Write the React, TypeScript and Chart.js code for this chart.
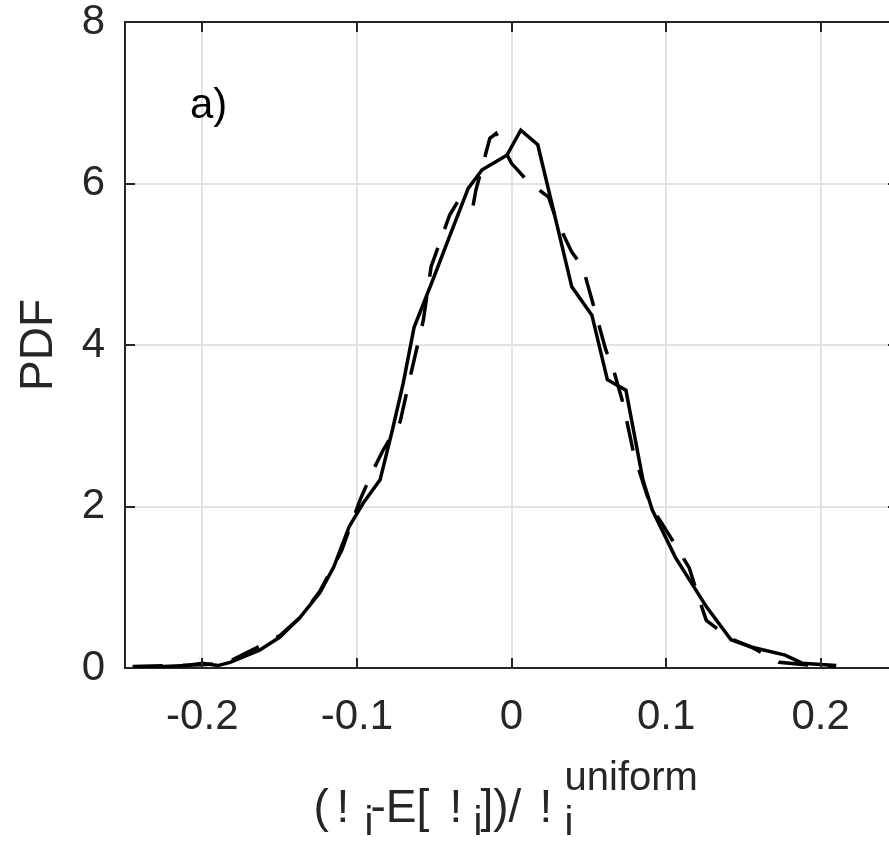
import React, { useEffect, useRef } from 'react';
import { Chart, registerables } from 'chart.js';

Chart.register(...registerables);

// ---- data ----
const solidX = [-0.245, -0.225, -0.21, -0.2, -0.19, -0.182, -0.163, -0.15, -0.137, -0.124, -0.115, -0.105, -0.096, -0.085, -0.077, -0.07, -0.063, -0.051, -0.041, -0.028, -0.019, -0.003, 0.006, 0.017, 0.039, 0.052, 0.062, 0.074, 0.085, 0.091, 0.106, 0.126, 0.142, 0.155, 0.177, 0.188, 0.21];
const solidPdf = [0.01, 0.02, 0.03, 0.06, 0.03, 0.07, 0.22, 0.38, 0.62, 0.93, 1.25, 1.75, 2.04, 2.33, 2.95, 3.53, 4.22, 4.8, 5.3, 5.94, 6.17, 6.35, 6.66, 6.48, 4.72, 4.37, 3.57, 3.44, 2.33, 1.96, 1.37, 0.76, 0.35, 0.26, 0.16, 0.06, 0.03];

const dashedX = [-0.245, -0.22, -0.2, -0.185, -0.165, -0.15, -0.137, -0.124, -0.11, -0.098, -0.09, -0.083, -0.072, -0.065, -0.057, -0.052, -0.04, -0.034, -0.025, -0.023, -0.014, -0.01, 0.0, 0.01, 0.024, 0.029, 0.039, 0.046, 0.052, 0.061, 0.066, 0.072, 0.079, 0.09, 0.097, 0.108, 0.115, 0.12, 0.126, 0.141, 0.155, 0.173, 0.19, 0.21];
const dashedPdf = [0.02, 0.03, 0.04, 0.06, 0.25, 0.4, 0.62, 0.95, 1.45, 2.08, 2.43, 2.7, 3.05, 3.65, 4.31, 4.97, 5.61, 5.8, 5.71, 5.92, 6.56, 6.62, 6.25, 6.04, 5.83, 5.55, 5.15, 4.97, 4.56, 3.94, 3.69, 3.29, 2.66, 2.0, 1.8, 1.46, 1.24, 0.93, 0.59, 0.37, 0.26, 0.07, 0.04, 0.02];

const xTickValues = [-0.2, -0.1, 0, 0.1, 0.2];
const yTickValues = [0, 2, 4, 6, 8];
const xRange = [-0.25, 0.25];
const yRange = [0, 8];
const yTitle = 'PDF';
const panelLabel = 'a)';
const panelLabelAt = [-0.208, 6.81];

// x-axis title pieces: [text, kind, offset from x=0 pixel] kind: m=main, sub, sup
const xTitlePieces: [string, string, number][] = [
  ['(', 'm', -198],
  ['!', 'm', -175],
  ['i', 'sub', -147],
  ['-E[', 'm', -141],
  ['!', 'm', -62],
  ['i', 'sub', -38],
  ['])/', 'm', -31],
  ['!', 'm', 28],
  ['i', 'sub', 53],
  ['uniform', 'sup', 53],
];

const AXIS = '#262626';
const FONT = "'Liberation Sans', Arial, Helvetica, sans-serif";

const framePlugin = {
  id: 'frame',
  afterDraw(chart: any) {
    const { ctx, chartArea, scales } = chart;
    const { left, right, top, bottom } = chartArea;
    ctx.save();
    ctx.strokeStyle = AXIS;
    ctx.lineWidth = 2;
    ctx.beginPath();
    ctx.moveTo(left, top);
    ctx.lineTo(right, top);
    ctx.lineTo(right, bottom);
    ctx.stroke();
    const tl = 10;
    ctx.beginPath();
    for (const v of xTickValues) {
      const px = Math.round(scales.x.getPixelForValue(v));
      ctx.moveTo(px, bottom);
      ctx.lineTo(px, bottom - tl);
      ctx.moveTo(px, top);
      ctx.lineTo(px, top + tl);
    }
    for (const v of yTickValues) {
      const py = Math.round(scales.y.getPixelForValue(v));
      ctx.moveTo(left, py);
      ctx.lineTo(left + tl, py);
      ctx.moveTo(right, py);
      ctx.lineTo(right - tl, py);
    }
    ctx.stroke();

    // panel label
    ctx.fillStyle = '#000';
    ctx.font = `42px ${FONT}`;
    ctx.textAlign = 'left';
    ctx.textBaseline = 'alphabetic';
    ctx.fillText(panelLabel, scales.x.getPixelForValue(panelLabelAt[0]), scales.y.getPixelForValue(panelLabelAt[1]));

    // x title with sub/superscripts
    const zero = scales.x.getPixelForValue(0);
    ctx.fillStyle = AXIS;
    for (const [t, kind, off] of xTitlePieces) {
      if (kind === 'm') {
        ctx.font = `46px ${FONT}`;
        ctx.fillText(t, zero + off, 822);
      } else if (kind === 'sub') {
        ctx.font = `40px ${FONT}`;
        ctx.fillText(t, zero + off, 835);
      } else {
        ctx.font = `40px ${FONT}`;
        ctx.fillText(t, zero + off, 790);
      }
    }
    ctx.restore();
  },
};

export default function App() {
  const ref = useRef<HTMLCanvasElement | null>(null);
  useEffect(() => {
    if (!ref.current) return;
    const chart = new Chart(ref.current, {
      type: 'scatter',
      data: {
        datasets: [
          {
            label: 'solid',
            data: solidX.map((x, i) => ({ x, y: solidPdf[i] })),
            showLine: true,
            borderColor: '#000',
            borderWidth: 3.5,
            pointRadius: 0,
            fill: false,
            tension: 0,
          },
          {
            label: 'dashed',
            data: dashedX.map((x, i) => ({ x, y: dashedPdf[i] })),
            showLine: true,
            borderColor: '#000',
            borderWidth: 3.5,
            borderDash: [30, 20],
            pointRadius: 0,
            fill: false,
            tension: 0,
          },
        ],
      },
      options: {
        animation: false,
        responsive: false,
        maintainAspectRatio: false,
        layout: { padding: 0 },
        plugins: { legend: { display: false }, tooltip: { enabled: false } },
        scales: {
          x: {
            type: 'linear',
            min: xRange[0],
            max: xRange[1],
            afterBuildTicks: (s: any) => {
              s.ticks = xTickValues.map((v) => ({ value: v }));
            },
            afterFit: (s: any) => {
              s.height = 174;
              s.paddingLeft = 0;
              s.paddingRight = 0;
            },
            grid: { color: '#e3e3e3', lineWidth: 2, drawTicks: false },
            border: { display: true, color: AXIS, width: 2 },
            ticks: {
              padding: 28,
              color: AXIS,
              maxRotation: 0,
              autoSkip: false,
              font: { family: FONT, size: 42, lineHeight: 1 },
              callback: (v: any) => String(v),
            },
          },
          y: {
            type: 'linear',
            min: yRange[0],
            max: yRange[1],
            afterBuildTicks: (s: any) => {
              s.ticks = yTickValues.map((v) => ({ value: v }));
            },
            afterFit: (s: any) => {
              s.width = 125;
              s.paddingTop = 22;
              s.paddingBottom = 0;
            },
            grid: { color: '#e3e3e3', lineWidth: 2, drawTicks: false },
            border: { display: true, color: AXIS, width: 2 },
            ticks: {
              padding: 20,
              color: AXIS,
              autoSkip: false,
              font: { family: FONT, size: 42, lineHeight: 1 },
              callback: (v: any) => String(v),
            },
            title: {
              display: true,
              text: yTitle,
              color: AXIS,
              font: { family: FONT, size: 46, lineHeight: 1.2 },
              padding: { top: 12, bottom: 0 },
            },
          },
        },
      },
      plugins: [framePlugin],
    });
    return () => chart.destroy();
  }, []);
  return (
    <div style={{ position: 'absolute', left: 0, top: 0, width: 889, height: 842, overflow: 'hidden', background: '#fff' }}>
      <canvas ref={ref} width={898} height={842} style={{ width: 898, height: 842, display: 'block' }} />
    </div>
  );
}
